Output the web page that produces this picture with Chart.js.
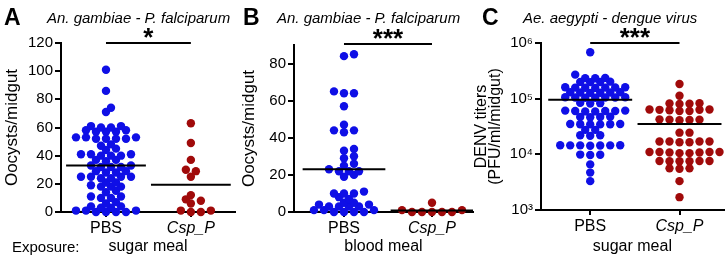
<!DOCTYPE html>
<html>
<head>
<meta charset="utf-8">
<script src="https://cdn.jsdelivr.net/npm/chart.js@4.4.1/dist/chart.umd.min.js"></script>
<style>
  body { margin: 0; background: #fff; }
  #wrap { position: relative; width: 728px; height: 260px; overflow: hidden; }
  canvas { position: absolute; top: 0; }
</style>
</head>
<body>
<div id="wrap">
  <canvas id="chartA" width="240" height="260" style="left:0"></canvas>
  <canvas id="chartB" width="240" height="260" style="left:240px"></canvas>
  <canvas id="chartC" width="258" height="260" style="left:470px"></canvas>
</div>
<script>
const grupos = ['PBS', 'Csp_P'];

// A: An. gambiae - P. falciparum, sugar meal (oocysts/midgut)
const aPbs = [101, 86, 74, 71, 61, 60, 60, 61, 58, 57, 57, 58, 57, 53, 52, 52, 53, 52, 52, 53,
  48, 47, 44, 45, 41, 40, 41, 40, 41, 40, 37, 36, 37, 33, 32, 32, 33, 32, 29, 28, 29, 28,
  25, 25, 24, 25, 24, 25, 21, 21, 18, 18, 19, 18, 14, 15, 11, 10, 11, 10, 6, 7, 3, 3, 4, 4,
  1, 0, 0, 1, 0, 1, 0];
const aCsp = [63, 49, 37, 30, 29, 25, 12, 9, 8, 6, 1, 0, 0, 1];
const aTicks = [0, 20, 40, 60, 80, 100, 120];

// B: An. gambiae - P. falciparum, blood meal
const bPbs = [85, 84, 65, 64, 64, 57, 47, 44, 44, 43, 34, 33, 30, 29, 26, 25, 23, 22, 22, 22, 20, 19,
  11, 10, 10, 10, 8, 7, 5, 5, 4, 4, 3, 3, 3, 3, 1, 1, 1, 0, 0, 0, 0];
const bCsp = [5, 1, 1, 0, 0, 0, 0, 0];
const bTicks = [0, 20, 40, 60, 80];

// C: Ae. aegypti - dengue virus (PFU/ml/midgut)
const cPbs = [680000, 270000, 236000, 232000, 234000, 200000, 198000, 202000, 199000,
  158000, 160000, 157000, 159000, 158000, 156000, 160000,
  129000, 128000, 130000, 129000, 127000, 130000,
  105000, 104000, 106000, 105000, 104000, 106000, 105000,
  83000, 82000, 84000, 60000, 61000, 59000, 60000, 61000, 60000, 59000,
  47000, 46500, 47500, 47000, 34700, 35000, 34500, 34700, 35000, 34500,
  27500, 27500, 22000, 21500, 22000,
  14500, 14400, 14600, 14500, 14300, 14500, 14600, 9800, 9700, 9900, 6600, 4700, 3300];
const cCsp = [183000, 113000, 83000, 80000, 82000, 81000,
  64000, 63000, 62000, 60000, 60000, 63000, 64000, 42000, 41000, 42000, 41500, 42500,
  24500, 24500, 17000, 17000, 16500, 17000, 16500, 17000,
  11000, 10800, 11000, 10500, 11000, 10800, 11000, 10500,
  7600, 7500, 7600, 7500, 7600, 7500, 5600, 5500, 5600, 3300, 1700];
const cTicks = [1e3, 1e4, 1e5, 1e6];

const AZUL = '#0f0fe6';
const ROJO = '#a00a0a';
const FUENTE = '"Liberation Sans", Arial, sans-serif';
const SUP = { 3: '\u00b3', 4: '\u2074', 5: '\u2075', 6: '\u2076' };

function promedio(valores) {
    return valores.reduce((total, v) => total + v, 0) / valores.length;
}

function lineaMedia(valores, idx, xMax) {
    const m = promedio(valores);
    return [{ x: idx - 0.47, y: m }, { x: Math.min(idx + 0.47, xMax), y: m }];
}

// dibuja letra, titulo, barra de significancia y notas
const decoracionPanel = {
    id: 'decoracionPanel',
    afterDraw(chart, args, opts) {
        const ctx = chart.ctx;
        const x = chart.scales.x;
        ctx.save();
        ctx.fillStyle = '#000';
        ctx.textBaseline = 'alphabetic';
        ctx.textAlign = 'left';
        ctx.font = 'bold 23px ' + FUENTE;
        ctx.fillText(opts.letra, opts.letraX, 25);
        ctx.font = 'italic 15px ' + FUENTE;
        ctx.fillText(opts.titulo, opts.tituloX, 23);
        (opts.notas || []).forEach(n => {
            ctx.font = n.font;
            ctx.fillText(n.texto, n.x, n.y);
        });

        const x0 = x.getPixelForValue(0);
        const x1 = x.getPixelForValue(1);
        const yb = opts.barraY;
        ctx.strokeStyle = '#000';
        ctx.lineWidth = 2;
        ctx.beginPath();
        ctx.moveTo(x0, yb);
        ctx.lineTo(x1, yb);
        ctx.stroke();
        ctx.font = 'bold 26px ' + FUENTE;
        ctx.textAlign = 'center';
        ctx.fillText(opts.estrellas, (x0 + x1) / 2, yb + 3);
        ctx.restore();
    }
};

// reparte los puntos de cada grupo en horizontal (beeswarm) usando las escalas
function repartirPuntos(chart) {
    const xs = chart.scales.x;
    const ys = chart.scales.y;
    const pxUnidad = xs.getPixelForValue(1) - xs.getPixelForValue(0);
    const paso = 5;
    const distancia = 6.2;
    chart.data.datasets.forEach((dataset) => {
        if (!dataset.valores) return;
        const colocados = [];
        const ordenados = dataset.valores.slice().sort((a, b) => a - b);
        dataset.data = ordenados.map(v => {
            const py = ys.getPixelForValue(v);
            let dx = 0;
            for (let i = 0; i < 80; i++) {
                dx = i === 0 ? 0 : (i % 2 ? 1 : -1) * Math.ceil(i / 2) * paso;
                if (colocados.every(p => Math.hypot(p.dx - dx, p.py - py) >= distancia)) break;
            }
            colocados.push({ dx, py });
            return { x: dataset.grupo + dx / pxUnidad, y: v };
        });
    });
    chart.update('none');
}

function crearPanel(id, p) {
    const ctx = document.getElementById(id).getContext('2d');
    const datasets = [
        { type: 'line', data: lineaMedia(p.pbs, 0, p.xMax), borderColor: '#000', borderWidth: 2, pointRadius: 0, order: 0, clip: false },
        { type: 'line', data: lineaMedia(p.csp, 1, p.xMax), borderColor: '#000', borderWidth: 2, pointRadius: 0, order: 0, clip: false },
        { valores: p.pbs, grupo: 0, data: p.pbs.map(v => ({ x: 0, y: v })), backgroundColor: AZUL, pointRadius: 4.2, borderWidth: 0, order: 1, clip: false },
        { valores: p.csp, grupo: 1, data: p.csp.map(v => ({ x: 1, y: v })), backgroundColor: ROJO, pointRadius: 4.2, borderWidth: 0, order: 1, clip: false }
    ];
    const chart = new Chart(ctx, {
        type: 'scatter',
        data: { datasets },
        plugins: [decoracionPanel],
        options: {
            responsive: false,
            animation: false,
            events: [],
            layout: { padding: { top: p.top, right: p.right, left: 0, bottom: 0 } },
            plugins: {
                legend: { display: false },
                tooltip: { enabled: false },
                decoracionPanel: p.deco
            },
            scales: {
                x: {
                    type: 'linear',
                    min: p.xMin,
                    max: p.xMax,
                    afterFit: (s) => { s.height = 260 - p.bottom; },
                    afterBuildTicks: (s) => { s.ticks = grupos.map((g, i) => ({ value: i })); },
                    grid: { drawOnChartArea: false, color: '#000', lineWidth: 2, tickLength: 5 },
                    border: { color: '#000', width: 2 },
                    ticks: {
                        color: '#000',
                        padding: 2,
                        maxRotation: 0,
                        callback: (v) => grupos[v],
                        font: (c) => ({ family: FUENTE, size: 16, style: c.index === 1 ? 'italic' : 'normal' })
                    },
                    title: {
                        display: true,
                        text: p.xTitulo,
                        color: '#000',
                        font: { family: FUENTE, size: 16 },
                        padding: { top: 0, bottom: 4 }
                    }
                },
                y: {
                    type: p.log ? 'logarithmic' : 'linear',
                    min: p.yMin,
                    max: p.yMax,
                    afterFit: (s) => { s.width = p.left; },
                    afterBuildTicks: (s) => { s.ticks = p.ticks.map(v => ({ value: v })); },
                    grid: { drawOnChartArea: false, color: '#000', lineWidth: 2, tickLength: 6 },
                    border: { color: '#000', width: 2 },
                    ticks: {
                        color: '#000',
                        padding: 2,
                        font: { family: FUENTE, size: 15 },
                        callback: p.log ? (v) => '10' + SUP[Math.round(Math.log10(v))] : (v) => v
                    },
                    title: {
                        display: true,
                        text: p.yTitulo,
                        color: '#000',
                        font: { family: FUENTE, size: p.yTituloSize, lineHeight: p.yLinea },
                        padding: { top: p.yPad, bottom: 0 }
                    }
                }
            }
        }
    });
    repartirPuntos(chart);
    return chart;
}

document.addEventListener('DOMContentLoaded', (event) => {
    inicializar();
});

function inicializar() {
    crearPanel('chartA', {
        pbs: aPbs, csp: aCsp, ticks: aTicks, yMin: 0, yMax: 120,
        xMin: -0.53, xMax: 1.52, left: 61, right: 5, top: 43, bottom: 212,
        yTitulo: 'Oocysts/midgut', yTituloSize: 17, yLinea: 1, yPad: 3.5,
        xTitulo: 'sugar meal',
        deco: {
            letra: 'A', letraX: 4, titulo: 'An. gambiae - P. falciparum', tituloX: 47,
            estrellas: '*', barraY: 43,
            notas: [{ texto: 'Exposure:', x: 12, y: 252, font: '15px ' + FUENTE }]
        }
    });
    crearPanel('chartB', {
        pbs: bPbs, csp: bCsp, ticks: bTicks, yMin: 0, yMax: 90,
        xMin: -0.568, xMax: 1.466, left: 54, right: 7, top: 45, bottom: 212,
        yTitulo: 'Oocysts/midgut', yTituloSize: 17, yLinea: 1, yPad: 0.5,
        xTitulo: 'blood meal',
        deco: {
            letra: 'B', letraX: 3, titulo: 'An. gambiae - P. falciparum', tituloX: 37,
            estrellas: '***', barraY: 44
        }
    });
    crearPanel('chartC', {
        pbs: cPbs, csp: cCsp, ticks: cTicks, yMin: 1e3, yMax: 1e6, log: true,
        xMin: -0.551, xMax: 1.496, left: 71, right: 1, top: 43, bottom: 210,
        yTitulo: ['DENV titers', '(PFU/ml/midgut)'], yTituloSize: 16, yLinea: 0.84, yPad: 5.25,
        xTitulo: 'sugar meal',
        deco: {
            letra: 'C', letraX: 12, titulo: 'Ae. aegypti - dengue virus', tituloX: 53,
            estrellas: '***', barraY: 43
        }
    });
}
</script>
</body>
</html>
